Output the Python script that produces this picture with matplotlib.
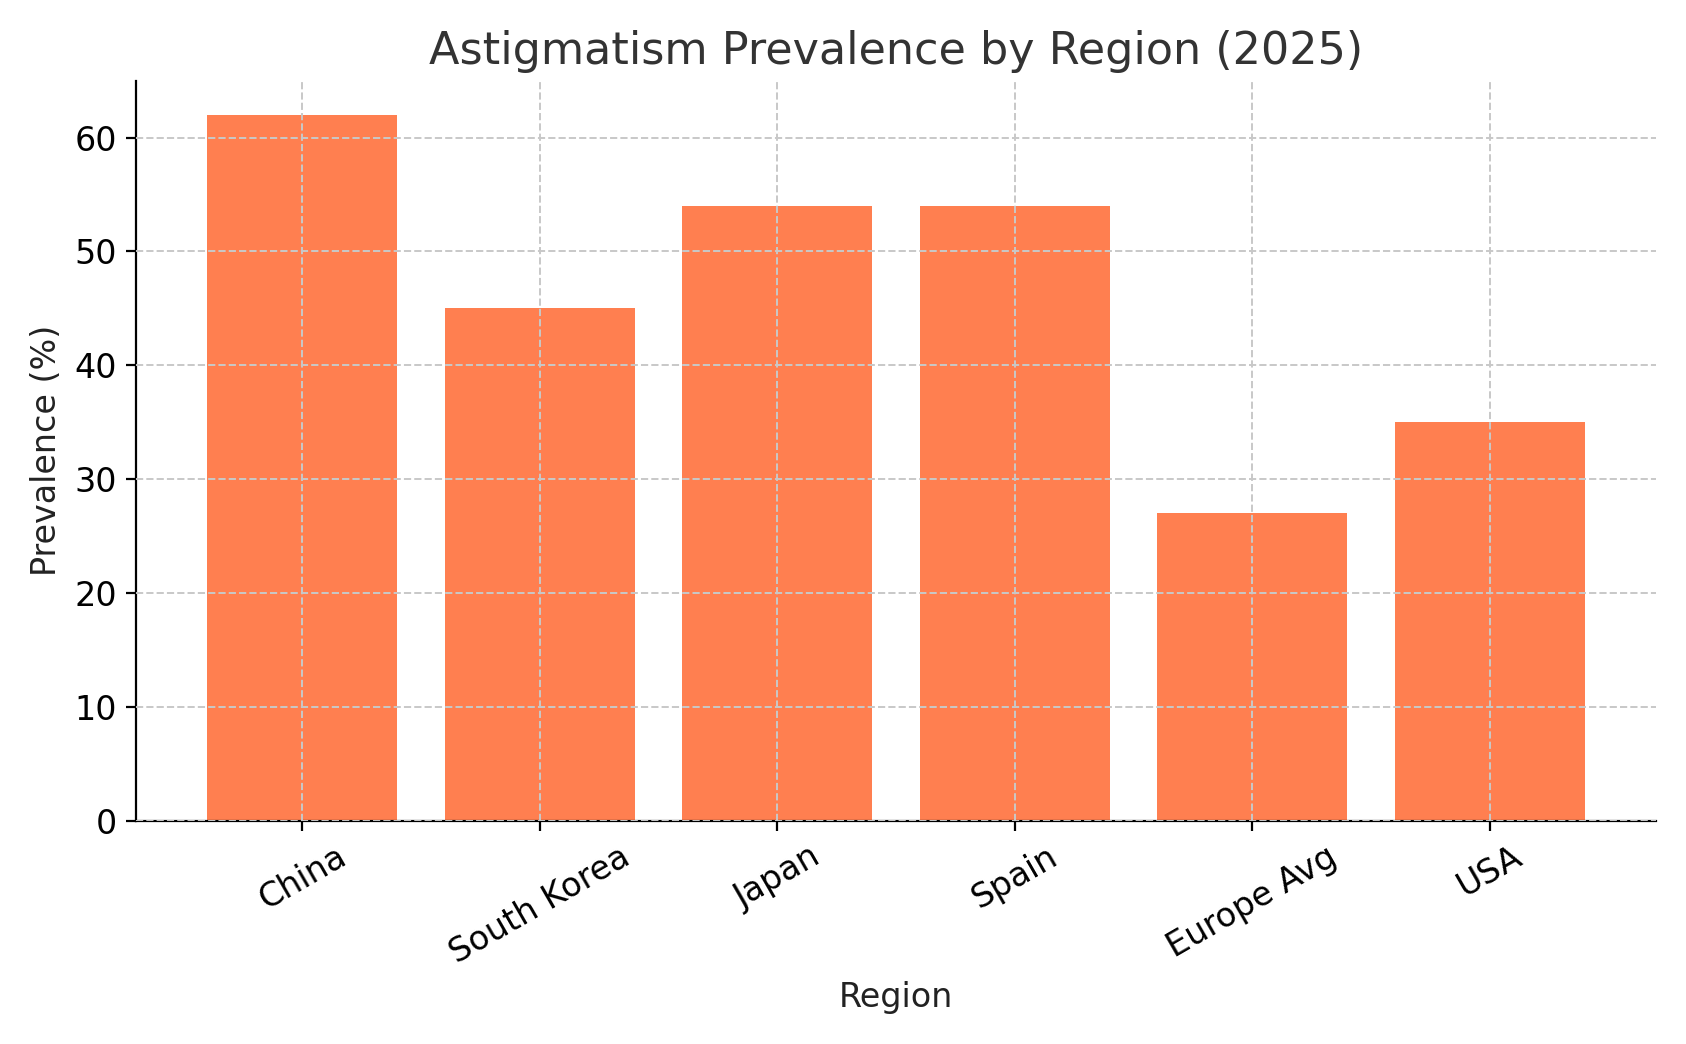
import matplotlib
matplotlib.use("Agg")
import matplotlib.pyplot as plt

regions = ["China", "South Korea", "Japan", "Spain", "Europe Avg", "USA"]
prevalence = [62, 45, 54, 54, 27, 35]

fig, ax = plt.subplots(figsize=(8.43, 5.22), dpi=200)
ax.bar(regions, prevalence, color="#FF7F50", width=0.8, zorder=2)
ax.set_title("Astigmatism Prevalence by Region (2025)", fontsize=16, color="#333333")
ax.set_xlabel("Region", fontsize=12, color="#222222")
ax.set_ylabel("Prevalence (%)", fontsize=12, color="#222222")
ax.tick_params(axis="x", rotation=30, labelsize=12)
ax.tick_params(axis="y", labelsize=12)
ax.grid(True, linestyle="--", color="#c8c8c8", linewidth=0.7, zorder=3)
ax.set_axisbelow(False)
for s in ["top", "right"]:
    ax.spines[s].set_visible(False)
ax.set_ylim(0, 65)
ax.set_xlim(-0.7, 5.7)
fig.tight_layout()
fig.savefig("out.png", dpi=200)
